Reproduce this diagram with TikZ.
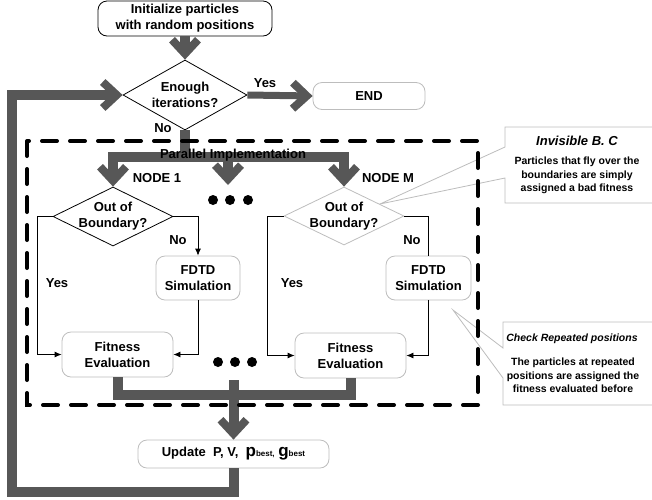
\documentclass[tikz,border=0pt]{standalone}
\usepackage{fontspec}
\setmainfont{Liberation Sans}
\usetikzlibrary{arrows.meta,shapes.geometric}
\definecolor{barc}{HTML}{575757}
\definecolor{lgrey}{HTML}{BDBDBD}
\begin{document}
\begin{tikzpicture}[x=1pt,y=-1pt,
  every node/.style={font=\fontsize{13}{16}\selectfont\bfseries, align=center, inner sep=0pt},
  rbox/.style={draw=lgrey, line width=0.8pt, rounded corners=9pt, fill=white},
  dmd/.style={diamond, draw=black, line width=0.8pt, inner sep=0pt, fill=white},
  thickbar/.style={draw=barc, line width=10pt},
  bigtip/.style={-{Straight Barb[length=14pt,width=26pt,line width=8pt,sharp]}},
  conn/.style={draw=black, line width=0.8pt},
  thintip/.style={-{Latex[length=7pt,width=6pt]}},
  small/.style={font=\fontsize{10.5}{13.5}\selectfont\bfseries},
  call/.style={draw=lgrey, line width=0.8pt, fill=white},
  dotc/.style={fill=black, circle, minimum size=10pt}
]
\clip (0,0) rectangle (652,499);
% callouts
\draw[call] (505,127) -- (655,127) -- (655,203) -- (505,203) -- (505,178) -- (380,204) -- (505,147) -- cycle;
\draw[call] (503,322) -- (655,322) -- (655,405) -- (503,405) -- (503,378) -- (453,310) -- (503,348) -- cycle;
\node[font=\fontsize{13}{16}\selectfont\bfseries\itshape] (ct1) at (577,141) {Invisible B. C};
\node[small] (cb1) at (577,175.5) {Particles that fly over the\\boundaries are simply\\assigned a bad fitness};
\node[font=\fontsize{10.5}{13}\selectfont\bfseries\itshape] (ct2) at (572,339) {Check Repeated positions};
\node[small] (cb2) at (573,375.5) {The particles at repeated\\positions are assigned the\\fitness evaluated before};

% nodes
\node[rbox, draw=black, minimum width=174pt, minimum height=35pt] (init) at (185,18.5) {Initialize particles\\with random positions};
\node[dmd, minimum width=124pt, minimum height=70pt, label={center:{Enough\\iterations?}}] (enough) at (185,95) {};
\node[rbox, minimum width=112pt, minimum height=27pt] (end) at (369,96) {END};
\node[dmd, minimum width=120pt, minimum height=59pt, label={center:{Out of\\Boundary?}}] (d1) at (113,216.5) {};
\node[dmd, draw=lgrey, minimum width=120pt, minimum height=58pt, label={center:{Out of\\Boundary?}}] (dM) at (344,216) {};
\node[rbox, minimum width=84pt, minimum height=44pt] (f1) at (198,278) {FDTD\\Simulation};
\node[rbox, minimum width=85pt, minimum height=44pt] (fM) at (428.5,278) {FDTD\\Simulation};
\node[rbox, minimum width=111pt, minimum height=45pt] (fit1) at (117.5,354.5) {Fitness\\Evaluation};
\node[rbox, minimum width=111pt, minimum height=45pt] (fitM) at (350.5,355.5) {Fitness\\Evaluation};
\node[rbox, minimum width=191pt, minimum height=28pt] (upd) at (233.5,454) {Update\ \ P, V,\ \ {\fontsize{17}{17}\selectfont p}{\fontsize{8}{8}\selectfont best,} {\fontsize{17}{17}\selectfont g}{\fontsize{8}{8}\selectfont best}};

\node[dotc] (dot1) at (213,200) {};
\node[dotc] (dot2) at (230,200) {};
\node[dotc] (dot3) at (248,200) {};
\node[dotc] (dot4) at (218,362) {};
\node[dotc] (dot5) at (235,362) {};
\node[dotc] (dot6) at (252,362) {};

% thick connectors
\coordinate (pj) at (185,157);
\coordinate (pmid) at (228,157);
\coordinate (pmidt) at (228,185);
\coordinate (lbar) at (233,395);
\coordinate (lmid) at (233.5,380);
\coordinate (lpb) at (12,492);
\draw[thickbar,bigtip] (init.south) -- (enough.north);
\draw[thickbar,line width=7pt,bigtip] (enough.east) -- (end.west);
\draw[thickbar] (enough.south) -- (pj);
\draw[thickbar,bigtip] (pj) -| (d1.north);
\draw[thickbar,bigtip] (pj) -| (dM.north);
\draw[thickbar,bigtip] (pmid) -- (pmidt);
\draw[thickbar] (fit1.south) -- (fit1.south |- lbar) -- (fitM.south |- lbar) -- (fitM.south);
\draw[thickbar,bigtip] (lmid) -- (upd.north);
\draw[thickbar,bigtip] (upd.south) -- (upd.south |- lpb) -| (enough.west -| lpb) -- (enough.west);

% thin connectors
\draw[conn,thintip] (d1.west) -- ++(-15,0) |- (fit1.west);
\draw[conn,thintip] (d1.east) -| (f1.north);
\draw[conn,thintip] (f1.south) |- (fit1.east);
\draw[conn,thintip] (dM.west) -- ++(-16,0) |- (fitM.west);
\draw[conn] (dM.east) -| (fM.north);
\draw[conn,thintip] (fM.south) |- (fitM.east);

% dashed region
\draw[black, line width=4pt, dash pattern=on 15pt off 13pt, line cap=round] (27,141) rectangle (478,405);

% labels
\node (pi) at (233,155) {Parallel Implementation};
\node (n1) at (157,178) {NODE 1};
\node (nM) at (388,178) {NODE M};
\node (yes0) at (265,83) {Yes};
\node (no0) at (163,128) {No};
\node (no1) at (178,240) {No};
\node (yes1) at (57,283) {Yes};
\node (noM) at (412,240) {No};
\node (yesM) at (292,283) {Yes};
\end{tikzpicture}
\end{document}
